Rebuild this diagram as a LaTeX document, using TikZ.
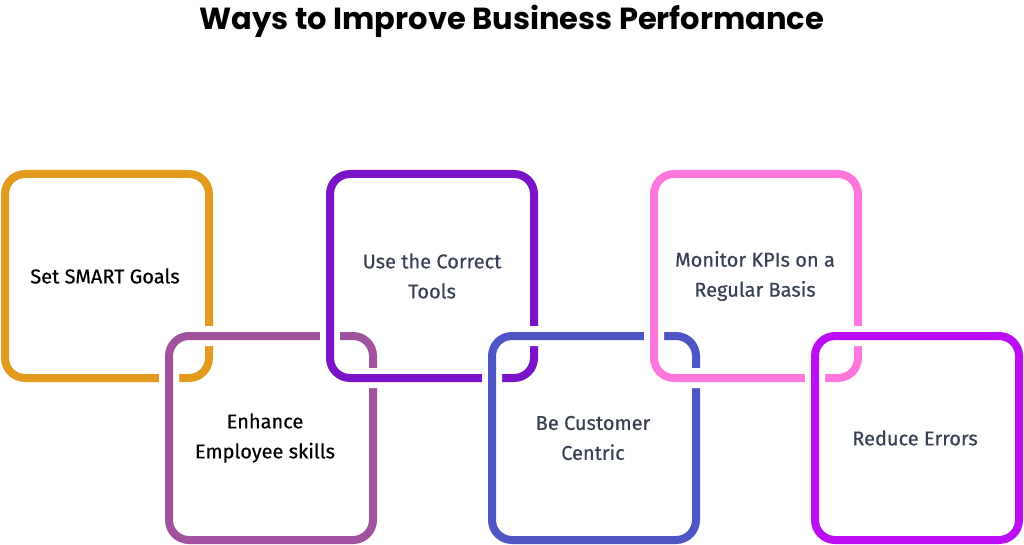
\documentclass[tikz,border=0pt]{standalone}
\usepackage{fontspec}
\setmainfont{Fira Sans}
\newfontfamily\medfont{Fira Sans}[FakeBold=0.5]
\newfontfamily\titlefont{Poppins}
\definecolor{c1}{HTML}{E39B1F}
\definecolor{c2}{HTML}{A0529E}
\definecolor{c3}{HTML}{7B14C9}
\definecolor{c4}{HTML}{4F55C4}
\definecolor{c5}{HTML}{FF77DD}
\definecolor{c6}{HTML}{BB0EF5}
\definecolor{tx}{HTML}{374151}
\begin{document}
\begin{tikzpicture}[x=1pt,y=-1pt,
  link/.style={rounded corners=20pt,line width=8pt},
  halo/.style={rounded corners=20pt,line width=20pt,white},
  lab/.style={align=center,font=\medfont\fontsize{20}{30}\selectfont}]
\useasboundingbox (0,0) rectangle (1024,545);
\node[font=\titlefont\bfseries\fontsize{30.5}{36}\selectfont] (title) at (512,21) {Ways to Improve Business Performance};
\foreach \x/\y/\c in {5/174/c1,169/336/c2,330/174/c3,492/336/c4,654/174/c5,815/336/c6}{
  \draw[halo] (\x,\y) rectangle ++(204,204);
  \draw[link,\c] (\x,\y) rectangle ++(204,204);
}
\node[lab] (t1) at (105,276) {Set SMART Goals};
\node[lab] (t2) at (265,438) {Enhance\\Employee skills};
\node[lab,text=tx] (t3) at (432,276) {Use the Correct\\Tools};
\node[lab,text=tx] (t4) at (593,438) {Be Customer\\Centric};
\node[lab,text=tx] (t5) at (755,276) {Monitor KPIs on a\\Regular Basis};
\node[lab,text=tx] (t6) at (915,438) {Reduce Errors};
\end{tikzpicture}
\end{document}
